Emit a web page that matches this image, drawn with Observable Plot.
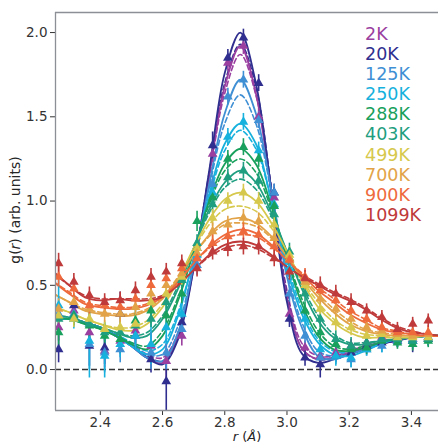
<!DOCTYPE html>
<html><head><meta charset="utf-8">
<script src="https://cdn.jsdelivr.net/npm/d3@7"></script>
<script src="https://cdn.jsdelivr.net/npm/@observablehq/plot@0.6"></script>
<style>
body{margin:0;background:#fff;}
#chart{position:relative;width:438px;height:444px;overflow:hidden;background:#fff;font-family:"DejaVu Sans",sans-serif;}
#legend{position:absolute;left:365px;top:24px;font-size:17.5px;line-height:20.1px;}
#ylab{position:absolute;left:15px;top:210px;transform:translate(-50%,-50%) rotate(-90deg);font-size:14px;white-space:nowrap;color:#262626;}
#xlab{position:absolute;left:247px;top:429px;transform:translateX(-50%);font-size:13px;line-height:15px;white-space:nowrap;color:#262626;}
</style></head><body><div id="chart"><div id="legend"></div><div id="ylab">g(<i>r</i>) (arb. units)</div><div id="xlab"><i>r</i> (<i>Å</i>)</div></div>
<script>
const temps = ["2K","20K","125K","250K","288K","403K","499K","700K","900K","1099K"];
const colors = ["#9a3fa0","#302f8f","#3f8fd4","#17b1dd","#18a05c","#1f9e80","#d6c84c","#e2a348","#ee6a3c","#bf3a3a"];
const rFit = [2.25,2.30,2.35,2.40,2.45,2.50,2.55,2.60,2.65,2.70,2.75,2.80,2.85,2.90,2.95,3.00,3.05,3.10,3.15,3.20,3.25,3.30,3.35,3.40,3.45,3.50];
const rData = [2.266,2.315,2.365,2.414,2.464,2.513,2.563,2.612,2.662,2.711,2.761,2.810,2.860,2.909,2.959,3.008,3.058,3.107,3.157,3.206,3.256,3.305,3.355,3.404,3.454];
const xTicks = [2.4,2.6,2.8,3.0,3.2,3.4];
const yTicks = [0.0,0.5,1.0,1.5,2.0];

const fitSolid = [
 [0.29,0.30,0.28,0.25,0.20,0.14,0.07,0.04,0.20,0.60,1.15,1.68,1.92,1.64,1.05,0.43,0.12,0.06,0.07,0.10,0.13,0.16,0.18,0.19,0.20,0.20],
 [0.30,0.30,0.28,0.25,0.20,0.14,0.07,0.03,0.18,0.60,1.18,1.76,2.00,1.70,1.06,0.40,0.09,0.04,0.06,0.09,0.12,0.15,0.17,0.19,0.20,0.20],
 [0.30,0.30,0.28,0.25,0.20,0.14,0.07,0.05,0.22,0.62,1.10,1.52,1.72,1.52,1.06,0.55,0.24,0.08,0.06,0.09,0.12,0.15,0.18,0.19,0.20,0.20],
 [0.30,0.30,0.28,0.25,0.20,0.14,0.09,0.12,0.32,0.66,1.04,1.34,1.46,1.34,1.00,0.60,0.32,0.16,0.09,0.08,0.11,0.15,0.18,0.19,0.20,0.20],
 [0.30,0.30,0.27,0.24,0.20,0.15,0.12,0.20,0.41,0.70,1.00,1.22,1.31,1.22,0.97,0.66,0.38,0.20,0.12,0.11,0.13,0.16,0.18,0.19,0.20,0.20],
 [0.32,0.31,0.28,0.25,0.22,0.19,0.20,0.30,0.48,0.72,0.95,1.11,1.18,1.11,0.93,0.70,0.47,0.29,0.19,0.15,0.15,0.17,0.18,0.19,0.20,0.20],
 [0.37,0.34,0.30,0.27,0.24,0.23,0.27,0.37,0.53,0.72,0.89,1.01,1.05,1.00,0.87,0.70,0.52,0.37,0.28,0.22,0.19,0.19,0.19,0.19,0.20,0.20],
 [0.45,0.40,0.35,0.33,0.32,0.32,0.35,0.42,0.54,0.68,0.80,0.88,0.90,0.87,0.79,0.67,0.54,0.43,0.34,0.27,0.23,0.21,0.20,0.20,0.20,0.20],
 [0.52,0.45,0.39,0.37,0.36,0.36,0.38,0.43,0.52,0.63,0.73,0.80,0.83,0.81,0.74,0.65,0.56,0.47,0.40,0.33,0.28,0.24,0.22,0.21,0.20,0.20],
 [0.58,0.50,0.43,0.41,0.42,0.41,0.41,0.43,0.50,0.59,0.68,0.74,0.76,0.74,0.68,0.61,0.55,0.50,0.45,0.41,0.36,0.30,0.25,0.22,0.21,0.20]
];
const fitDashed = [
 [0.29,0.30,0.28,0.25,0.21,0.15,0.09,0.07,0.22,0.61,1.14,1.64,1.87,1.63,1.07,0.47,0.15,0.08,0.08,0.11,0.14,0.16,0.18,0.19,0.20,0.20],
 [0.30,0.30,0.28,0.25,0.21,0.15,0.08,0.05,0.21,0.62,1.17,1.70,1.93,1.68,1.08,0.45,0.12,0.06,0.07,0.10,0.13,0.15,0.17,0.19,0.20,0.20],
 [0.30,0.30,0.28,0.25,0.21,0.15,0.09,0.09,0.26,0.63,1.08,1.46,1.63,1.46,1.05,0.58,0.27,0.11,0.08,0.10,0.13,0.16,0.18,0.19,0.20,0.20],
 [0.30,0.30,0.28,0.25,0.21,0.16,0.11,0.15,0.34,0.66,1.02,1.30,1.42,1.31,1.00,0.63,0.35,0.18,0.11,0.10,0.12,0.15,0.18,0.19,0.20,0.20],
 [0.30,0.30,0.27,0.24,0.20,0.16,0.14,0.23,0.43,0.70,0.98,1.18,1.25,1.17,0.95,0.67,0.41,0.23,0.14,0.12,0.14,0.16,0.18,0.19,0.20,0.20],
 [0.32,0.31,0.28,0.25,0.22,0.20,0.22,0.32,0.50,0.72,0.93,1.08,1.13,1.07,0.91,0.70,0.49,0.32,0.21,0.16,0.16,0.17,0.18,0.19,0.20,0.20],
 [0.37,0.34,0.30,0.27,0.25,0.25,0.29,0.39,0.54,0.71,0.86,0.95,0.97,0.94,0.84,0.69,0.53,0.40,0.30,0.24,0.21,0.20,0.19,0.19,0.20,0.20],
 [0.45,0.40,0.36,0.34,0.33,0.33,0.36,0.43,0.55,0.68,0.79,0.86,0.87,0.85,0.78,0.67,0.55,0.45,0.36,0.29,0.24,0.22,0.21,0.20,0.20,0.20],
 [0.52,0.46,0.40,0.38,0.37,0.37,0.39,0.44,0.53,0.63,0.72,0.78,0.80,0.79,0.73,0.65,0.57,0.49,0.42,0.35,0.30,0.25,0.23,0.21,0.20,0.20],
 [0.57,0.50,0.44,0.42,0.42,0.42,0.42,0.44,0.51,0.59,0.67,0.72,0.74,0.72,0.67,0.61,0.56,0.51,0.46,0.42,0.37,0.31,0.26,0.23,0.21,0.20]
];
const gData = [
 [0.25,0.35,0.22,0.11,0.17,0.23,0.14,0.05,0.20,0.66,1.28,1.82,1.92,1.50,1.02,0.33,0.13,0.08,0.10,0.14,0.16,0.19,0.19,0.18,0.19],
 [0.12,0.38,0.14,0.13,0.33,0.20,0.06,-0.07,0.28,0.72,1.33,1.85,1.97,1.70,1.05,0.30,0.07,0.03,0.08,0.10,0.14,0.16,0.17,0.17,0.18],
 [0.33,0.33,0.15,0.10,0.12,0.20,0.10,0.10,0.24,0.62,1.10,1.62,1.72,1.48,1.05,0.45,0.20,0.07,0.08,0.06,0.12,0.14,0.17,0.18,0.19],
 [0.38,0.30,0.17,0.08,0.15,0.20,0.15,0.25,0.33,0.68,1.05,1.38,1.47,1.30,0.98,0.60,0.30,0.12,0.08,0.07,0.12,0.18,0.18,0.17,0.19],
 [0.22,0.32,0.26,0.20,0.18,0.29,0.35,0.32,0.45,0.88,1.02,1.25,1.32,1.25,0.97,0.66,0.35,0.22,0.15,0.12,0.13,0.17,0.16,0.15,0.17],
 [0.30,0.31,0.27,0.22,0.22,0.26,0.30,0.40,0.53,0.75,0.98,1.14,1.18,1.12,0.92,0.70,0.45,0.30,0.18,0.14,0.16,0.18,0.18,0.17,0.18],
 [0.32,0.30,0.30,0.24,0.25,0.27,0.40,0.45,0.55,0.72,0.90,1.00,1.05,1.00,0.86,0.68,0.50,0.36,0.28,0.25,0.20,0.21,0.19,0.19,0.19],
 [0.36,0.40,0.36,0.33,0.33,0.37,0.45,0.50,0.57,0.69,0.82,0.86,0.90,0.88,0.78,0.66,0.52,0.42,0.36,0.30,0.25,0.23,0.21,0.20,0.21],
 [0.55,0.48,0.38,0.38,0.37,0.42,0.50,0.54,0.60,0.66,0.75,0.79,0.82,0.80,0.73,0.65,0.55,0.47,0.41,0.35,0.30,0.25,0.22,0.22,0.22],
 [0.63,0.52,0.44,0.40,0.41,0.47,0.55,0.58,0.63,0.60,0.70,0.72,0.73,0.73,0.66,0.58,0.54,0.50,0.45,0.40,0.35,0.31,0.24,0.27,0.29]
];
const gErr = [
 [0.08,0.06,0.08,0.10,0.08,0.08,0.08,0.10,0.06,0.05,0.05,0.05,0.05,0.05,0.05,0.05,0.04,0.04,0.04,0.04,0.03,0.03,0.03,0.03,0.03],
 [0.08,0.06,0.12,0.10,0.13,0.08,0.08,0.18,0.06,0.05,0.08,0.05,0.05,0.05,0.05,0.05,0.05,0.08,0.04,0.04,0.04,0.04,0.04,0.07,0.04],
 [0.10,0.06,0.15,0.12,0.08,0.08,0.10,0.10,0.06,0.06,0.05,0.05,0.05,0.05,0.05,0.05,0.05,0.05,0.05,0.05,0.04,0.04,0.04,0.04,0.04],
 [0.15,0.06,0.22,0.13,0.08,0.08,0.12,0.10,0.06,0.06,0.05,0.05,0.05,0.05,0.05,0.05,0.05,0.05,0.06,0.06,0.04,0.08,0.05,0.05,0.05],
 [0.08,0.06,0.08,0.08,0.08,0.07,0.08,0.08,0.06,0.06,0.05,0.05,0.05,0.05,0.05,0.05,0.05,0.05,0.05,0.05,0.04,0.04,0.04,0.04,0.04],
 [0.06,0.05,0.05,0.05,0.05,0.05,0.05,0.05,0.05,0.05,0.05,0.05,0.05,0.05,0.05,0.05,0.05,0.05,0.05,0.05,0.04,0.04,0.04,0.04,0.04],
 [0.06,0.05,0.05,0.05,0.05,0.05,0.05,0.05,0.05,0.05,0.05,0.05,0.05,0.05,0.05,0.05,0.05,0.05,0.05,0.05,0.04,0.04,0.04,0.04,0.04],
 [0.06,0.05,0.05,0.05,0.05,0.05,0.05,0.05,0.05,0.05,0.05,0.05,0.05,0.05,0.05,0.05,0.05,0.05,0.05,0.05,0.04,0.04,0.04,0.04,0.04],
 [0.06,0.05,0.05,0.05,0.05,0.05,0.05,0.05,0.05,0.05,0.05,0.05,0.05,0.05,0.05,0.05,0.05,0.05,0.05,0.05,0.04,0.04,0.04,0.04,0.04],
 [0.06,0.05,0.05,0.05,0.05,0.05,0.05,0.05,0.05,0.05,0.05,0.05,0.05,0.05,0.05,0.05,0.05,0.05,0.05,0.05,0.04,0.04,0.04,0.04,0.04]
];

const solidRows = temps.flatMap((T,i)=> rFit.map((r,j)=>({T, r, g: fitSolid[i][j]})));
const dashedRows = temps.flatMap((T,i)=> rFit.map((r,j)=>({T, r, g: fitDashed[i][j]})));
const dataRows = temps.flatMap((T,i)=> rData.map((r,j)=>({T, r, g: gData[i][j], e: gErr[i][j]})));

const xDom = [2.256, 3.487];
const yDom = [-0.243, 2.119];
const spine = "#8c9096";

const plot = Plot.plot({
  width: 438, height: 444,
  marginLeft: 55, marginTop: 12, marginRight: 0, marginBottom: 34,
  style: {fontFamily: "DejaVu Sans", fontSize: "13.5px", color: "#333", background: "white", overflow: "visible"},
  x: {domain: xDom, ticks: xTicks, tickFormat: ".1f", tickSize: 5, tickPadding: 2, label: null},
  y: {domain: yDom, ticks: yTicks, tickFormat: ".1f", tickSize: 5, tickPadding: 3, label: null},
  color: {domain: temps, range: colors},
  marks: [
    Plot.ruleY([0], {stroke: "#333", strokeWidth: 1.4, strokeDasharray: "6,3"}),
    Plot.line(dashedRows, {x: "r", y: "g", z: "T", stroke: "T", strokeWidth: 1.6, strokeDasharray: "5,3", curve: "catmull-rom", clip: true}),
    Plot.line(solidRows, {x: "r", y: "g", z: "T", stroke: "T", strokeWidth: 1.8, curve: "catmull-rom", clip: true}),
    Plot.ruleX(dataRows, {x: "r", y1: d => d.g - d.e, y2: d => d.g + d.e, stroke: "T", strokeWidth: 1.6, clip: true}),
    Plot.dot(dataRows, {x: "r", y: "g", fill: "T", symbol: "triangle", r: 3.6, clip: true}),
    Plot.ruleX([xDom[0]], {stroke: spine, strokeWidth: 1.3}),
    Plot.ruleY([yDom[0], yDom[1]], {stroke: spine, strokeWidth: 1.3})
  ]
});
const chart = document.getElementById("chart");
chart.insertBefore(plot, chart.firstChild);
const leg = document.getElementById("legend");
temps.forEach((t,i)=>{ const d=document.createElement("div"); d.textContent=t; d.style.color=colors[i]; leg.appendChild(d); });
</script></body></html>
